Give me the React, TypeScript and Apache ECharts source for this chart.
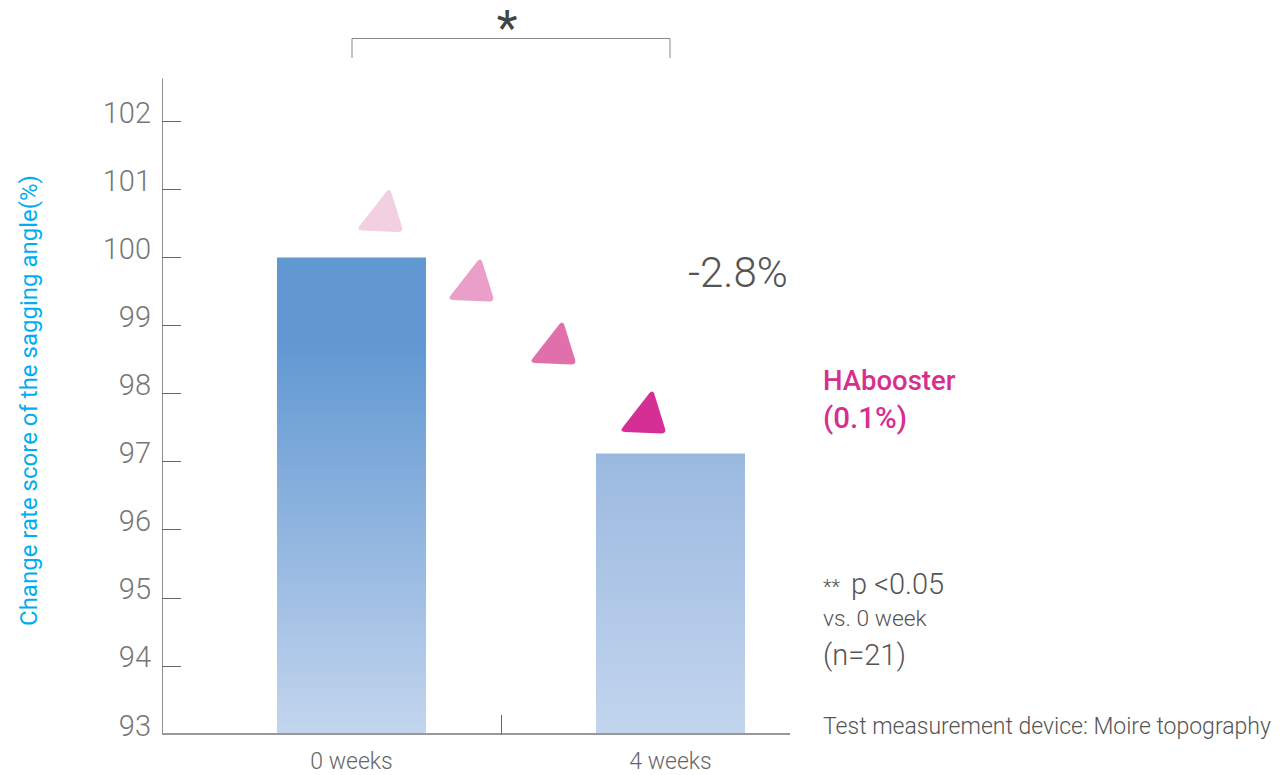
import React, { useEffect, useRef } from "react";
import * as echarts from "echarts";

const categories = ["0 weeks", "4 weeks"];
const values = [100, 97.12];
const barTopColors = ["#6198d2", "#9bb9e0"];
const barMidStops = [0.18, 0];
const yMin = 93;
const yMax = 102.62;
const yTicks = [93, 94, 95, 96, 97, 98, 99, 100, 101, 102];
const triangleColors = ["#f2cfe1", "#e99fc8", "#e06fac", "#d52f95"];
const trianglePositions = [[389, 190], [480, 259.5], [562, 322.5], [652, 391.5]];
const FONT = "Roboto";

echarts.graphic.registerShape(
  "roundTri",
  echarts.graphic.extendPath(
    "M-2.5 1.5 Q0 -1.5 2 1.5 L13 37 Q14.5 42 9 42 L-27 40.5 Q-33 40 -29 35.5 Z",
    {}
  )
);

export default function App() {
  const ref = useRef<HTMLDivElement>(null);
  useEffect(() => {
    document.body.style.margin = "0";
    const chart = echarts.init(ref.current!, null, { renderer: "svg" });
    const txt = (x: number, y: number, text: string, fontSize: number, fill = "#555", fontWeight: any = 300, extra: any = {}) => ({
      type: "text", x, y, z: 20,
      style: { text, fontSize, fill, fontWeight, fontFamily: FONT, textVerticalAlign: "middle", verticalAlign: "middle", ...extra },
    });
    const line = (x1: number, y1: number, x2: number, y2: number, stroke: string, lineWidth = 1) => ({
      type: "line", z: 15, shape: { x1, y1, x2, y2 }, style: { stroke, lineWidth },
    });
    chart.setOption({
      animation: false,
      backgroundColor: "#fff",
      grid: { left: 192, width: 638, top: 79, height: 655 },
      xAxis: {
        type: "category",
        data: categories,
        axisLine: { show: false },
        axisTick: { show: false },
        axisLabel: { color: "#666", fontSize: 23, fontFamily: FONT, fontWeight: 300, margin: 16 },
      },
      yAxis: {
        type: "value",
        min: yMin,
        max: yMax,
        interval: 1,
        offset: 30,
        splitLine: { show: false },
        axisLine: { show: true, lineStyle: { color: "#8c8c8c", width: 1 } },
        axisTick: { show: true, inside: true, length: 19, customValues: yTicks, lineStyle: { color: "#666", width: 1 } },
        axisLabel: {
          color: "#777",
          fontSize: 29,
          fontFamily: FONT,
          fontWeight: 300,
          margin: 11,
          verticalAlign: "bottom",
          lineHeight: 17,
          customValues: yTicks,
        },
      },
      series: [
        {
          type: "bar",
          barWidth: 149,
          data: values.map((value, i) => ({
            value,
            itemStyle: {
              color: new echarts.graphic.LinearGradient(0, 0, 0, 1, [
                { offset: 0, color: barTopColors[i] },
                { offset: barMidStops[i], color: barTopColors[i] },
                { offset: 1, color: "#c3d5ee" },
              ]),
            },
          })),
        },
      ],
      graphic: [
        line(162, 734, 790, 734, "#999", 2),
        line(501.5, 715, 501.5, 734, "#666", 1),
        { type: "polyline", z: 15, shape: { points: [[352, 58], [352, 38.5], [670, 38.5], [670, 58]] }, style: { stroke: "#888", lineWidth: 1, fill: "none" } },
        txt(507, 27, "*", 48, "#444", 400, { textAlign: "center" }),
        {
          type: "text", z: 20, x: 29, y: 400.5, rotation: Math.PI / 2,
          style: { text: "Change rate score of the sagging angle(%)", fontSize: 24, fill: "#00aeef", fontFamily: FONT, fontWeight: 400, textAlign: "center", textVerticalAlign: "middle", verticalAlign: "middle" },
        },
        ...trianglePositions.map((p, i) => ({ type: "roundTri", z: 12, x: p[0], y: p[1], style: { fill: triangleColors[i] } })),
        txt(688, 272, "-2.8%", 42),
        txt(823, 380, "HAbooster", 27.5, "#d6308f", 500),
        txt(823, 418, "(0.1%)", 29.5, "#d6308f", 500),
        txt(823, 587, "**", 20),
        txt(851, 584, "p <0.05", 29),
        txt(823, 618, "vs. 0 week", 22.8),
        txt(823, 655, "(n=21)", 29),
        txt(823, 726, "Test measurement device: Moire topography", 23),
      ],
    });
    return () => chart.dispose();
  }, []);
  return <div ref={ref} style={{ position: "absolute", left: 0, top: 0, width: 1286, height: 775 }} />;
}
